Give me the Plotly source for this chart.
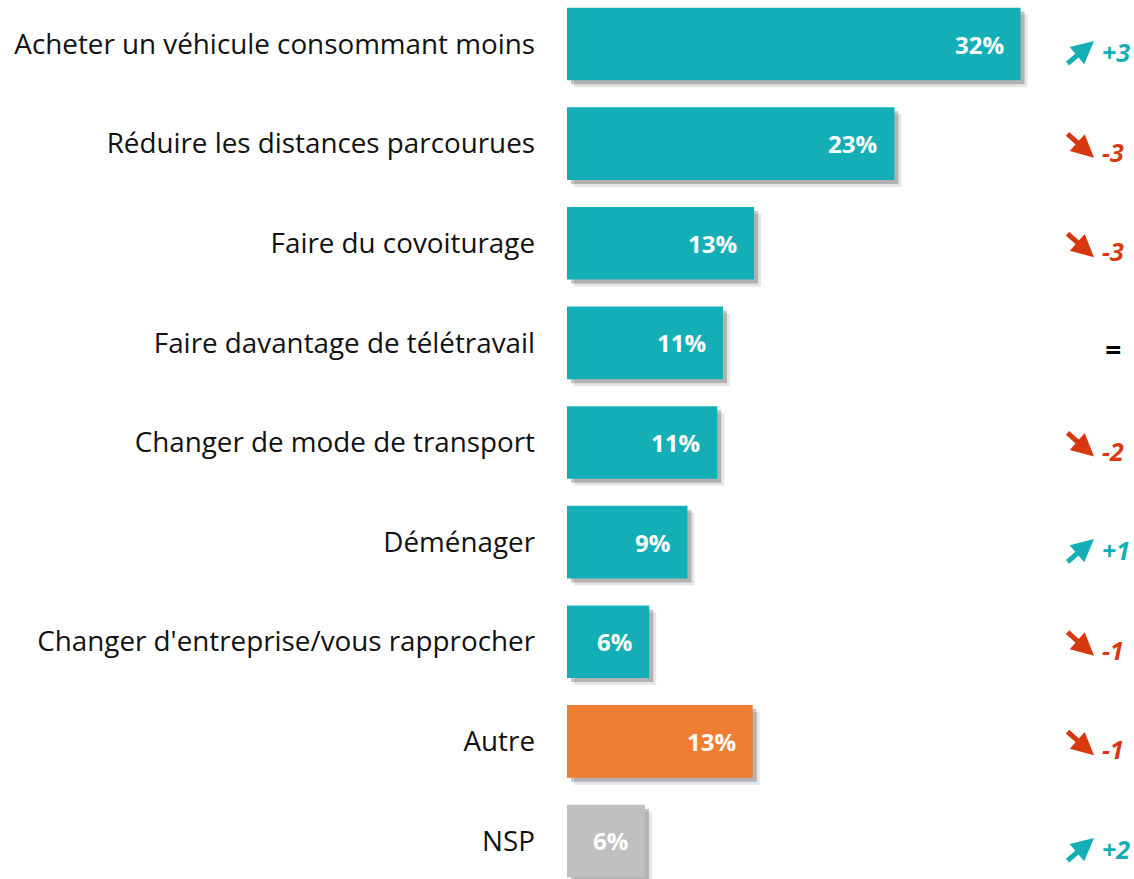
import plotly.graph_objects as go

# data
categories = [
    "Acheter un véhicule consommant moins",
    "Réduire les distances parcourues",
    "Faire du covoiturage",
    "Faire davantage de télétravail",
    "Changer de mode de transport",
    "Déménager",
    "Changer d'entreprise/vous rapprocher",
    "Autre",
    "NSP",
]
values = [32.0, 23.1, 13.2, 11.0, 10.6, 8.5, 5.8, 13.1, 5.5]
value_labels = ["32%", "23%", "13%", "11%", "11%", "9%", "6%", "13%", "6%"]
changes = ["+3", "-3", "-3", "=", "-2", "+1", "-1", "-1", "+2"]

TEAL = "#14AFB6"
ORANGE = "#ED7D31"
GREY = "#BFBFBF"
RED = "#D7380F"
bar_colors = [TEAL] * 7 + [ORANGE, GREY]

W, H = 1134, 879
px_x = (W - 567) / 40.0      # px per x unit
px_y = 99.6                  # px per category slot

ypos = list(range(len(categories)))
bar_w = 0.73

fig = go.Figure()

# soft drop shadow (two layers)
for d, op in [(7, 0.10), (4, 0.22)]:
    fig.add_trace(go.Bar(
        y=ypos, x=values, base=d / px_x, orientation="h",
        width=bar_w, offset=-bar_w / 2 + d / px_y,
        marker=dict(color=f"rgba(0,0,0,{op})", line=dict(width=0)),
        hoverinfo="skip", showlegend=False,
    ))

fig.add_trace(go.Bar(
    y=ypos, x=values, orientation="h", width=bar_w,
    marker=dict(color=bar_colors, line=dict(width=0)),
    showlegend=False,
))

# value labels inside bars
for i, (v, t) in enumerate(zip(values, value_labels)):
    fig.add_annotation(x=v, y=i, xref="x", yref="y", text=t, showarrow=False,
                       xanchor="right", xshift=-15,
                       font=dict(family="Open Sans", size=24, color="white", weight="bold"))

# trend indicators on the right
for i, c in enumerate(changes):
    if c == "=":
        fig.add_annotation(x=1113 / W, y=i, xref="paper", yref="y", text="<i><b>=</b></i>",
                           showarrow=False, yshift=-6, xanchor="center",
                           font=dict(family="Open Sans", size=28, color="black"))
        continue
    up = c.startswith("+")
    col = TEAL if up else RED
    fig.add_annotation(x=1100 / W, y=i, xref="paper", yref="y", text=f"<b><i>{c}</i></b>",
                       showarrow=False, yshift=-8, xanchor="left",
                       font=dict(family="Open Sans", size=25, color=col))
    if up:
        fig.add_annotation(x=1094 / W, y=i, xref="paper", yref="y", text="",
                           showarrow=True, arrowhead=2, arrowsize=0.9, arrowwidth=5,
                           arrowcolor=col, ax=-28, ay=24, yshift=3, standoff=0)
    else:
        fig.add_annotation(x=1094 / W, y=i, xref="paper", yref="y", text="",
                           showarrow=True, arrowhead=2, arrowsize=0.9, arrowwidth=5,
                           arrowcolor=col, ax=-28, ay=-25, yshift=-14, standoff=0)

top = -44 / px_y
bottom = len(categories) - 1 + (H - 841) / px_y

fig.update_layout(
    width=W, height=H,
    margin=dict(l=0, r=0, t=0, b=0),
    paper_bgcolor="white", plot_bgcolor="white",
    barmode="overlay",
    xaxis=dict(domain=[567 / W, 1], range=[0, 40], visible=False, fixedrange=True),
    yaxis=dict(range=[bottom, top], tickmode="array", tickvals=ypos, ticktext=categories,
               showgrid=False, zeroline=False, showline=False, ticks="",
               ticklabelstandoff=31, automargin=False, fixedrange=True,
               tickfont=dict(family="Open Sans", size=27.8, color="#111111")),
)

fig.write_html("out.html", config={"displayModeBar": False},
               post_script="document.body.style.margin='0';")
